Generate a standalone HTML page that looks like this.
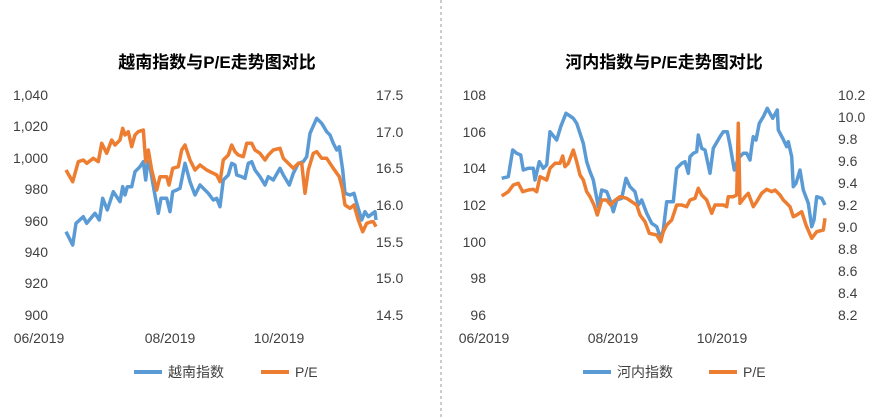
<!DOCTYPE html>
<html><head><meta charset="utf-8"><style>
body{margin:0;background:#fff;width:887px;height:419px;overflow:hidden}
svg{display:block;font-family:"Liberation Sans","Noto Sans CJK SC",sans-serif}
</style></head><body>
<svg id="s" width="887" height="419" viewBox="0 0 887 419">
<line x1="441" y1="0" x2="441" y2="419" stroke="#999" stroke-dasharray="3,3"/>
<text x="217" y="68" text-anchor="middle" font-size="17" font-weight="bold" fill="#000">越南指数与P/E走势图对比</text>
<text x="664" y="68" text-anchor="middle" font-size="17" font-weight="bold" fill="#000">河内指数与P/E走势图对比</text>
<g font-size="14" fill="#404040">
<g text-anchor="end">
<text x="48" y="100">1,040</text><text x="48" y="131">1,020</text><text x="48" y="163">1,000</text><text x="48" y="194">980</text><text x="48" y="226">960</text><text x="48" y="257">940</text><text x="48" y="288">920</text><text x="48" y="320">900</text>
<text x="486" y="100">108</text><text x="486" y="137">106</text><text x="486" y="173">104</text><text x="486" y="210">102</text><text x="486" y="247">100</text><text x="486" y="283">98</text><text x="486" y="320">96</text>
</g>
<text x="376" y="100">17.5</text><text x="376" y="137">17.0</text><text x="376" y="173">16.5</text><text x="376" y="210">16.0</text><text x="376" y="247">15.5</text><text x="376" y="283">15.0</text><text x="376" y="320">14.5</text>
<text x="838" y="100">10.2</text><text x="838" y="122">10.0</text><text x="838" y="144">9.8</text><text x="838" y="166">9.6</text><text x="838" y="188">9.4</text><text x="838" y="210">9.2</text><text x="838" y="232">9.0</text><text x="838" y="254">8.8</text><text x="838" y="276">8.6</text><text x="838" y="298">8.4</text><text x="838" y="320">8.2</text>
<g text-anchor="middle">
<text x="39" y="343">06/2019</text><text x="170" y="343">08/2019</text><text x="279" y="343">10/2019</text>
<text x="484" y="343">06/2019</text><text x="613" y="343">08/2019</text><text x="722" y="343">10/2019</text>
</g>
<text x="168" y="377">越南指数</text><text x="295" y="377">P/E</text>
<text x="617" y="377">河内指数</text><text x="743" y="377">P/E</text>
</g>
<line x1="134" y1="372" x2="162" y2="372" stroke="#5b9bd5" stroke-width="4"/>
<line x1="261" y1="372" x2="289" y2="372" stroke="#ed7d31" stroke-width="4"/>
<line x1="583" y1="372" x2="611" y2="372" stroke="#5b9bd5" stroke-width="4"/>
<line x1="709" y1="372" x2="737" y2="372" stroke="#ed7d31" stroke-width="4"/>
</svg>
<script>
var L={b:[48,425,68,465,78,400,100,380,110,400,135,370,148,390,158,325,172,360,190,305,210,335,218,290,225,315,232,290,245,290,255,245,270,230,280,215,287,270,293,215,300,230,312,300,325,370,333,325,350,325,360,365,368,305,380,300,390,295,405,220,420,275,435,315,450,285,475,310,490,330,500,325,510,350,520,270,535,255,545,220,555,225,560,255,575,260,585,265,595,220,605,215,615,240,630,260,645,285,655,260,670,270,690,235,700,255,718,285,730,250,745,220,760,215,770,200,780,130,800,85,815,100,830,125,840,135,850,160,860,180,868,170,878,240,885,310,900,315,912,310,920,340,935,390,945,365,955,380,975,365,978,390],
o:[48,240,68,275,85,215,100,210,110,220,130,205,145,215,155,160,170,190,185,150,195,165,210,150,218,115,225,135,235,125,245,170,255,135,265,125,280,120,287,215,295,180,305,240,320,300,330,260,350,260,357,285,368,235,385,230,395,180,405,165,420,210,435,240,450,225,470,240,490,250,500,255,510,275,520,210,535,195,545,165,555,185,565,195,580,200,590,160,605,160,615,180,630,190,645,210,655,195,670,180,690,175,700,205,720,225,730,235,745,220,755,220,765,310,775,240,790,190,800,185,815,205,830,205,850,235,868,260,878,300,885,345,900,355,912,345,925,390,938,425,950,400,965,395,970,395,978,410]};
var R={b:[35,265,55,260,68,180,80,190,92,195,100,240,115,235,130,235,135,270,148,215,160,235,170,225,180,125,200,150,212,110,228,70,240,78,250,85,260,100,270,130,280,160,290,215,300,245,310,270,325,350,335,300,350,305,360,330,370,365,380,330,395,325,408,265,420,290,435,305,445,345,455,330,470,370,485,400,500,410,512,445,520,420,530,335,550,335,560,235,575,220,585,215,595,250,600,200,610,190,620,185,625,135,635,175,645,180,660,250,670,175,690,140,700,125,712,125,720,165,733,240,745,205,760,190,770,190,780,210,785,170,790,140,798,150,808,100,820,80,832,55,848,85,862,60,865,120,878,145,890,170,895,155,905,200,910,290,918,280,930,240,940,300,955,340,965,410,972,390,980,320,995,325,1005,345],
o:[35,318,55,305,70,285,85,280,98,305,115,300,130,298,140,305,150,260,170,270,180,235,195,220,210,220,218,198,225,230,235,220,250,180,260,215,270,255,280,270,290,305,300,320,312,345,322,375,335,330,350,330,362,345,370,335,390,320,410,325,425,335,440,345,450,375,465,395,478,430,500,435,512,455,520,425,530,405,545,390,560,345,575,345,590,350,600,330,615,325,625,295,635,315,650,330,665,370,675,345,700,345,710,350,715,320,730,320,740,315,745,100,750,340,765,320,775,310,790,350,800,335,815,310,830,298,845,305,855,300,870,315,880,330,890,340,900,350,910,380,920,375,935,365,948,405,965,445,980,425,1000,420,1005,385]};
var s=document.getElementById('s'),ns='http://www.w3.org/2000/svg';
function add(a,ox,oy,c){var p=[];for(var i=0;i<a.length;i+=2)p.push((ox+a[i]/3).toFixed(1)+','+(oy+a[i+1]/3).toFixed(1));
var e=document.createElementNS(ns,'polyline');e.setAttribute('points',p.join(' '));e.setAttribute('fill','none');e.setAttribute('stroke',c);e.setAttribute('stroke-width','3.5');e.setAttribute('stroke-linejoin','round');s.appendChild(e);}
add(L.b,50,90,'#5b9bd5');add(L.o,50,90,'#ed7d31');
add(R.b,490,90,'#5b9bd5');add(R.o,490,90,'#ed7d31');
</script>
</body></html>
